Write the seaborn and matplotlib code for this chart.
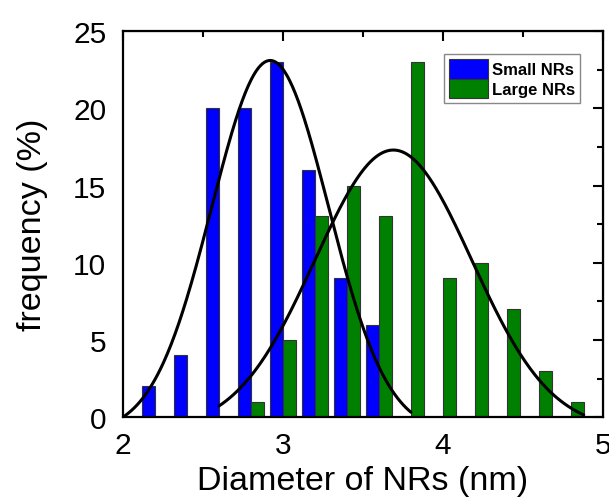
import numpy as np
import pandas as pd
import matplotlib
matplotlib.use('Agg')
import matplotlib.pyplot as plt
from matplotlib.ticker import MultipleLocator
import seaborn as sns

# bin values (nm) and frequencies (%)
small_d = [2.2, 2.4, 2.6, 2.8, 3.0, 3.2, 3.4, 3.6]
small_f = [2, 4, 20, 20, 23, 16, 9, 6]
large_d = [2.8, 3.0, 3.2, 3.4, 3.6, 3.8, 4.0, 4.2, 4.4, 4.6, 4.8]
large_f = [1, 5, 13, 15, 13, 23, 9, 10, 7, 3, 1]

# Gaussian fit parameters: y0, A, xc, sigma, x range
small_fit = dict(y0=-1.0, A=24.1, xc=2.92, s=0.365, x0=2.0, x1=3.8)
large_fit = dict(y0=-0.8, A=18.1, xc=3.69, s=0.49, x0=2.6, x1=4.88)

sns.set_style('white')
plt.rcParams['font.family'] = ['Liberation Sans', 'DejaVu Sans']
plt.rcParams['text.color'] = 'black'
plt.rcParams['axes.labelcolor'] = 'black'
plt.rcParams['xtick.color'] = 'black'
plt.rcParams['ytick.color'] = 'black'

df = pd.DataFrame({
    'diameter': small_d + large_d,
    'freq': small_f + large_f,
    'sample': ['Small NRs'] * len(small_d) + ['Large NRs'] * len(large_d),
})

fig = plt.figure(figsize=(6.09, 5.02), dpi=100)
ax = fig.add_axes([0.202, 0.167, 0.788, 0.769])

sns.barplot(data=df, x='diameter', y='freq', hue='sample', native_scale=True,
            dodge=True, width=0.8, palette=['#0000ff', '#008000'], saturation=1,
            errorbar=None, edgecolor='#333333', linewidth=0.8, ax=ax)

def gauss(p):
    x = np.linspace(p['x0'], p['x1'], 300)
    return x, p['y0'] + p['A'] * np.exp(-(x - p['xc']) ** 2 / (2 * p['s'] ** 2))

for p in (small_fit, large_fit):
    gx, gy = gauss(p)
    ax.plot(gx, gy, color='black', lw=2.2, zorder=5)

ax.set_xlim(2, 5)
ax.set_ylim(0, 25)
ax.set_xticks([2, 3, 4, 5])
ax.set_yticks([0, 5, 10, 15, 20, 25])
ax.xaxis.set_minor_locator(MultipleLocator(0.5))
ax.yaxis.set_minor_locator(MultipleLocator(2.5))
ax.tick_params(which='both', direction='out', width=1.5, labelsize=21.5)
ax.tick_params(axis='x', which='major', pad=3)
ax.tick_params(axis='y', which='major', pad=5)
ax.tick_params(which='major', length=7)
ax.tick_params(which='minor', length=4)
for sp in ax.spines.values():
    sp.set_linewidth(1.6)
    sp.set_color('black')

top = ax.secondary_xaxis('top')
top.set_xticks([2, 3, 4, 5])
top.xaxis.set_minor_locator(MultipleLocator(0.5))
top.tick_params(which='both', direction='in', width=1.5, labeltop=False)
top.tick_params(which='major', length=7)
top.tick_params(which='minor', length=4)
right = ax.secondary_yaxis('right')
right.set_yticks([0, 5, 10, 15, 20, 25])
right.yaxis.set_minor_locator(MultipleLocator(2.5))
right.tick_params(which='both', direction='in', width=1.5, labelright=False)
right.tick_params(which='major', length=7)
right.tick_params(which='minor', length=4)

ax.set_xlabel('Diameter of NRs (nm)', fontsize=24.5, labelpad=4)
ax.set_ylabel('frequency (%)', fontsize=24.5, labelpad=18)

handles, labels = ax.get_legend_handles_labels()
leg = ax.legend(handles, labels, loc='upper right', bbox_to_anchor=(0.952, 0.94),
                prop={'weight': 'bold', 'size': 12}, handlelength=2.3, handleheight=1.4,
                labelspacing=0.0, handletextpad=0.25, borderpad=0.3, borderaxespad=0,
                fancybox=False, framealpha=1, edgecolor='#888888')
leg.get_frame().set_linewidth(1.0)

fig.savefig('out.png', dpi=100)
